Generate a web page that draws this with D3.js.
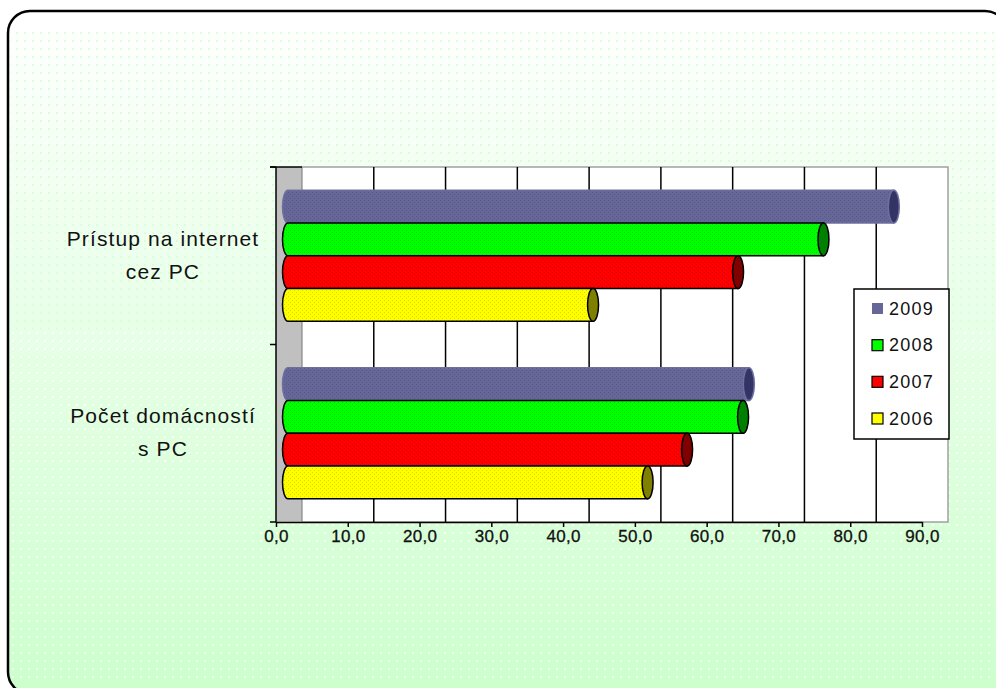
<!DOCTYPE html>
<html>
<head>
<meta charset="utf-8">
<script src="https://cdn.jsdelivr.net/npm/d3@7"></script>
<style>
  body { margin: 0; background: #fff; }
  svg { display: block; font-family: "Liberation Sans", Arial, sans-serif; }
</style>
</head>
<body>
<svg id="chart" width="996" height="688"></svg>
<script>
// data
var categories = [["Prístup na internet", "cez PC"], ["Počet domácností", "s PC"]];
var years = ["2009", "2008", "2007", "2006"];
var values2009 = [84.4, 64.2];
var values2008 = [74.6, 63.4];
var values2007 = [62.7, 55.6];
var values2006 = [42.5, 50.1];
var xTicks = [0, 10, 20, 30, 40, 50, 60, 70, 80, 90];

var series = { "2009": values2009, "2008": values2008, "2007": values2007, "2006": values2006 };
var fills  = { "2009": "#666699", "2008": "#00ff00", "2007": "#ff0000", "2006": "#ffff00" };
var caps   = { "2009": "#333366", "2008": "#008000", "2007": "#800000", "2006": "#808000" };

var svg = d3.select('#chart');
var defs = svg.append('defs');

// background gradient + dots
var grad = defs.append('linearGradient').attr('id', 'bg').attr('x1', 0).attr('y1', 0).attr('x2', 0).attr('y2', 1);
grad.append('stop').attr('offset', '0%').attr('stop-color', '#ffffff');
grad.append('stop').attr('offset', '100%').attr('stop-color', '#ccffcc');

var dotG = defs.append('pattern').attr('id', 'dotG').attr('width', 8).attr('height', 8).attr('patternUnits', 'userSpaceOnUse');
dotG.append('rect').attr('x', 0).attr('y', 0).attr('width', 2).attr('height', 2).attr('fill', '#d8ffd8');
var dotW = defs.append('pattern').attr('id', 'dotW').attr('width', 8).attr('height', 8).attr('patternUnits', 'userSpaceOnUse');
dotW.append('rect').attr('x', 4).attr('y', 4).attr('width', 2).attr('height', 2).attr('fill', '#ffffff').attr('opacity', 0.8);

var dith = defs.append('pattern').attr('id', 'dith').attr('width', 4).attr('height', 4).attr('patternUnits', 'userSpaceOnUse');
dith.append('rect').attr('x', 0).attr('y', 0).attr('width', 1).attr('height', 1).attr('fill', '#000').attr('opacity', 0.14);
dith.append('rect').attr('x', 2).attr('y', 2).attr('width', 1).attr('height', 1).attr('fill', '#000').attr('opacity', 0.14);

defs.append('clipPath').attr('id', 'frameClip')
  .append('rect').attr('x', 8).attr('y', 11).attr('width', 999).attr('height', 683).attr('rx', 22);

svg.append('rect').attr('x', 8).attr('y', 11).attr('width', 999).attr('height', 683).attr('rx', 22)
  .attr('fill', 'url(#bg)');
var dots = svg.append('g').attr('clip-path', 'url(#frameClip)');
dots.append('rect').attr('x', 8).attr('y', 30).attr('width', 999).attr('height', 300).attr('fill', 'url(#dotG)');
dots.append('rect').attr('x', 8).attr('y', 330).attr('width', 999).attr('height', 350).attr('fill', 'url(#dotW)');
svg.append('rect').attr('x', 8).attr('y', 11).attr('width', 999).attr('height', 683).attr('rx', 22)
  .attr('fill', 'none').attr('stroke', '#000').attr('stroke-width', 2.5);

// scales
var depth = 26;
var x = d3.scaleLinear().domain([0, 90]).range([276, 922]);
var yTop = 167, yBot = 522;
var y = d3.scaleBand().domain(d3.range(categories.length)).range([yTop, yBot]).paddingInner(0.262).paddingOuter(0.131);
var ySub = d3.scaleBand().domain(years).range([0, y.bandwidth()]);

// walls
svg.append('rect').attr('x', x(0)).attr('y', yTop).attr('width', depth).attr('height', yBot - yTop)
  .attr('fill', '#c0c0c0');
svg.append('line').attr('x1', x(0) + depth).attr('x2', x(0) + depth).attr('y1', yTop).attr('y2', yBot)
  .attr('stroke', '#808080').attr('stroke-width', 1.5);
svg.append('rect').attr('x', x(0) + depth).attr('y', yTop).attr('width', x(90) - x(0)).attr('height', yBot - yTop)
  .attr('fill', '#fff').attr('stroke', '#a0a0a0').attr('stroke-width', 1.5);

svg.append('g').selectAll('line').data(xTicks.slice(1, -1)).enter().append('line')
  .attr('x1', function(d) { return x(d) + depth; })
  .attr('x2', function(d) { return x(d) + depth; })
  .attr('y1', yTop).attr('y2', yBot)
  .attr('stroke', '#000').attr('stroke-width', 1.5);

// axes
var xAxis = d3.axisBottom(x).tickValues(xTicks).tickSize(5).tickSizeOuter(0)
  .tickFormat(function(d) { return d3.format('.1f')(d).replace('.', ','); });
var gx = svg.append('g').attr('transform', 'translate(0,' + yBot + ')').call(xAxis);
gx.select('.domain').attr('stroke', '#000').attr('stroke-width', 1.5);
gx.selectAll('.tick line').attr('stroke', '#000').attr('stroke-width', 1.5);
gx.selectAll('.tick text').attr('y', 20).attr('dy', 0).attr('font-size', 17).attr('fill', '#111')
  .attr('font-family', '"Liberation Sans", Arial, sans-serif').attr('letter-spacing', 0.3)
  .attr('stroke', '#111').attr('stroke-width', 0.3);

svg.append('line').attr('x1', x(0)).attr('x2', x(0)).attr('y1', yTop).attr('y2', yBot)
  .attr('stroke', '#000').attr('stroke-width', 1.5);
svg.append('line').attr('x1', x(0) - 6).attr('x2', x(0) + depth).attr('y1', yTop).attr('y2', yTop)
  .attr('stroke', '#000').attr('stroke-width', 1.5);
svg.append('g').selectAll('line').data([yTop, (yTop + yBot) / 2, yBot]).enter().append('line')
  .attr('x1', x(0) - 6).attr('x2', x(0)).attr('y1', function(d) { return d; }).attr('y2', function(d) { return d; })
  .attr('stroke', '#000').attr('stroke-width', 1.5);

// category labels
var cat = svg.append('g').selectAll('text').data(categories).enter().append('text')
  .attr('text-anchor', 'middle').attr('font-size', 21).attr('letter-spacing', 1.1).attr('fill', '#111');
cat.append('tspan').attr('x', 163).attr('y', function(d, i) { return y(i) + y.bandwidth() / 2 - 10; })
  .text(function(d) { return d[0]; });
cat.append('tspan').attr('x', 163).attr('y', function(d, i) { return y(i) + y.bandwidth() / 2 + 23; })
  .text(function(d) { return d[1]; });

// cylinders
var off = 12, rx = 5.5;
var bars = svg.append('g');
categories.forEach(function(c, i) {
  years.forEach(function(yr) {
    var v = series[yr][i];
    var top = y(i) + ySub(yr), h = ySub.bandwidth(), bot = top + h;
    var x0 = x(0) + off, x1 = x(v) + off;
    var body = 'M' + x0 + ',' + top + 'L' + x1 + ',' + top + 'L' + x1 + ',' + bot + 'L' + x0 + ',' + bot +
      'A' + rx + ',' + (h / 2) + ' 0 0 1 ' + x0 + ',' + top + 'Z';
    var stroke = yr === '2009' ? '#7070a0' : '#000';
    var g = bars.append('g');
    g.append('path').attr('d', body).attr('fill', fills[yr]).attr('stroke', stroke).attr('stroke-width', 1.5);
    g.append('path').attr('d', body).attr('fill', 'url(#dith)');
    g.append('ellipse').attr('cx', x1).attr('cy', top + h / 2).attr('rx', rx).attr('ry', h / 2)
      .attr('fill', caps[yr]).attr('stroke', stroke).attr('stroke-width', 1.5);
  });
});

// legend
var lg = svg.append('g');
lg.append('rect').attr('x', 854).attr('y', 289).attr('width', 95).attr('height', 150)
  .attr('fill', '#fff').attr('stroke', '#000').attr('stroke-width', 1.5);
var ly = d3.scalePoint().domain(years).range([308.5, 418.5]);
var li = lg.selectAll('g.item').data(years).enter().append('g').attr('class', 'item');
li.append('rect').attr('x', 872).attr('y', function(d) { return ly(d) - 5.5; }).attr('width', 11).attr('height', 11)
  .attr('fill', function(d) { return fills[d]; })
  .attr('stroke', function(d) { return d === '2009' ? 'none' : '#000'; }).attr('stroke-width', 1.2);
li.append('text').attr('x', 889).attr('y', function(d) { return ly(d) + 6; })
  .attr('font-size', 18).attr('letter-spacing', 1.2).attr('fill', '#111').text(function(d) { return d; });
</script>
</body>
</html>
